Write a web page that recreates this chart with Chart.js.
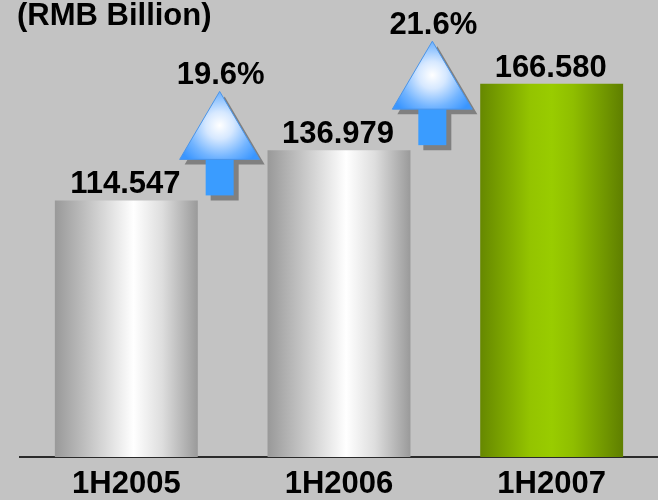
<!DOCTYPE html>
<html>
<head>
<meta charset="utf-8">
<script src="https://cdn.jsdelivr.net/npm/chart.js@4/dist/chart.umd.min.js"></script>
<style>
  html, body { margin: 0; padding: 0; background: #c3c3c3; }
  #wrap { position: relative; width: 658px; height: 500px; }
</style>
</head>
<body>
<div id="wrap"><canvas id="receitaChart"></canvas></div>
<script>
const periodos = ["1H2005", "1H2006", "1H2007"];
const valores = [114.547, 136.979, 166.580];
const unidade = "(RMB Billion)";

const fonte = "'Liberation Sans', Arial, sans-serif";
const largBarra = 0.672;

// gradiente horizontal de cada barra (prata, prata, verde)
function corBarra(ctx) {
    const chart = ctx.chart;
    const xs = chart.scales.x;
    if (!xs || !chart.chartArea) return "#cccccc";
    const centro = xs.getPixelForValue(ctx.dataIndex);
    const meia = (xs.width / periodos.length) * largBarra / 2;
    const g = chart.ctx.createLinearGradient(centro - meia, 0, centro + meia, 0);
    if (ctx.dataIndex === periodos.length - 1) {
        g.addColorStop(0, "#668800");
        g.addColorStop(0.35, "#94c400");
        g.addColorStop(0.5, "#99cc00");
        g.addColorStop(0.65, "#8fbe00");
        g.addColorStop(1, "#5f7f00");
    } else {
        g.addColorStop(0, "#999999");
        g.addColorStop(0.2, "#bdbdbd");
        g.addColorStop(0.55, "#ffffff");
        g.addColorStop(0.75, "#dedede");
        g.addColorStop(1, "#9a9a9a");
    }
    return g;
}

function desenharSeta(c, cx, yb) {
    const larg = 80, altTri = 68, altHaste = 36, largHaste = 28;
    const yBase = yb - altHaste;
    const yTopo = yBase - altTri;

    // sombra
    c.save();
    c.fillStyle = "#808080";
    c.beginPath();
    c.moveTo(cx + 5, yTopo + 5);
    c.lineTo(cx + larg / 2 + 5, yBase + 5);
    c.lineTo(cx + largHaste / 2 + 5, yBase + 5);
    c.lineTo(cx + largHaste / 2 + 5, yb + 5);
    c.lineTo(cx - largHaste / 2 + 5, yb + 5);
    c.lineTo(cx - largHaste / 2 + 5, yBase + 5);
    c.lineTo(cx - larg / 2 + 5, yBase + 5);
    c.closePath();
    c.fill();

    // haste
    c.fillStyle = "#3a9cff";
    c.fillRect(cx - largHaste / 2, yBase - 1, largHaste, altHaste + 1);

    // ponta com brilho no meio
    const rg = c.createRadialGradient(cx, yTopo + altTri * 0.5, 0, cx, yTopo + altTri * 0.5, 46);
    rg.addColorStop(0, "#ffffff");
    rg.addColorStop(0.3, "#d6e8ff");
    rg.addColorStop(0.7, "#72b4ff");
    rg.addColorStop(1, "#3a96ff");
    c.fillStyle = rg;
    c.beginPath();
    c.moveTo(cx, yTopo);
    c.lineTo(cx + larg / 2, yBase);
    c.lineTo(cx - larg / 2, yBase);
    c.closePath();
    c.fill();
    c.strokeStyle = "#4a94e8";
    c.lineWidth = 1;
    c.stroke();
    c.restore();
    return yTopo;
}

const rotulos = {
    id: "rotulos",
    afterDatasetsDraw(chart) {
        const c = chart.ctx;
        const barras = chart.getDatasetMeta(0).data;
        c.save();
        c.font = "bold 31px " + fonte;
        c.fillStyle = "#000";
        c.textAlign = "center";
        c.textBaseline = "alphabetic";

        for (let i = 0; i < barras.length; i++) {
            c.fillText(valores[i].toFixed(3), barras[i].x - 1, barras[i].y - 7);
        }

        for (let i = 0; i < barras.length - 1; i++) {
            const cx = (barras[i].x + barras[i + 1].x) / 2 - 13;
            const yTopo = desenharSeta(c, cx, barras[i].y - 5);
            const cresc = ((valores[i + 1] / valores[i] - 1) * 100).toFixed(1) + "%";
            c.fillStyle = "#000";
            c.fillText(cresc, cx + 1, yTopo - 7);
        }

        c.textAlign = "left";
        c.fillText(unidade, 17, 25);
        c.restore();
    }
};

new Chart(document.getElementById("receitaChart"), {
    type: "bar",
    data: {
        labels: periodos,
        datasets: [{
            data: valores,
            backgroundColor: corBarra,
            borderWidth: 0,
            barPercentage: largBarra,
            categoryPercentage: 1
        }]
    },
    options: {
        responsive: true,
        maintainAspectRatio: false,
        animation: false,
        layout: { padding: { top: 9, left: 20, right: 0, bottom: -12 } },
        plugins: {
            legend: { display: false },
            tooltip: { enabled: false }
        },
        scales: {
            x: {
                grid: { display: false, drawTicks: false },
                border: { display: true, color: "#2a2a2a", width: 2 },
                ticks: {
                    color: "#000",
                    padding: 11,
                    font: { family: fonte, size: 31, weight: "bold", lineHeight: 1.065 }
                }
            },
            y: {
                display: false,
                min: 0,
                max: 200
            }
        }
    },
    plugins: [rotulos]
});
</script>
</body>
</html>
